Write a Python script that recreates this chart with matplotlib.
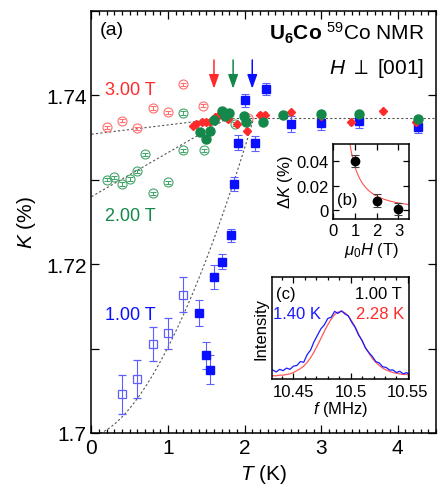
import numpy as np
import matplotlib
matplotlib.use('Agg')
from matplotlib import pyplot as plt
from matplotlib.ticker import MultipleLocator, FuncFormatter

plt.rcParams['font.family'] = ['Liberation Sans', 'DejaVu Sans']
plt.rcParams['mathtext.fontset'] = 'custom'
plt.rcParams['mathtext.rm'] = 'Liberation Sans'
plt.rcParams['mathtext.it'] = 'Liberation Sans:italic'
plt.rcParams['mathtext.bf'] = 'Liberation Sans:bold'

# ---- (a) Knight shift vs T ----
# 3.00 T
T3_open = [0.20, 0.40, 0.60, 0.80, 1.00, 1.20, 1.46, 2.05]
K3_open = [1.7362, 1.7370, 1.7361, 1.7385, 1.7380, 1.7413, 1.7388, 1.7373]
T3_fill = [1.33, 1.37, 1.44, 1.50, 1.55, 1.61, 1.65, 1.78, 1.90, 2.03,
           2.20, 2.27, 2.60, 3.00, 3.39, 3.81, 4.24]
K3_fill = [1.7364, 1.7366, 1.7369, 1.7369, 1.7369, 1.7374, 1.7376, 1.7372, 1.7366, 1.7358,
           1.7377, 1.7377, 1.7380, 1.7376, 1.7368, 1.7381, 1.7368]
# 2.00 T
T2_open = [0.20, 0.30, 0.40, 0.50, 0.60, 0.70, 0.80, 1.00, 1.19, 1.20, 1.47, 1.87]
K2_open = [1.7300, 1.7303, 1.7295, 1.7301, 1.7310, 1.7330, 1.7284, 1.7297, 1.7379, 1.7335, 1.7335, 1.7366]
T2_fill = [1.42, 1.50, 1.55, 1.60, 1.70, 1.75, 1.80, 1.99, 2.02, 2.24, 2.50, 3.00, 3.50, 4.26]
K2_fill = [1.7357, 1.7348, 1.7358, 1.7371, 1.7381, 1.7375, 1.7379, 1.7375, 1.7368, 1.7368,
           1.7377, 1.7378, 1.7378, 1.7372]
# 1.00 T
T1_open = [0.40, 0.60, 0.80, 1.00, 1.20]
K1_open = [1.7046, 1.7064, 1.7105, 1.7118, 1.7164]
E1_open = [0.0023, 0.0023, 0.0020, 0.0018, 0.0021]
T1_fill = [1.40, 1.50, 1.55, 1.60, 1.70, 1.82, 1.86, 1.91, 2.00, 2.14, 2.28, 2.60, 3.00, 3.50, 4.26]
K1_fill = [1.7142, 1.7092, 1.7075, 1.7185, 1.7203, 1.7234, 1.7295, 1.7344, 1.7394, 1.7343,
           1.7408, 1.7366, 1.7367, 1.7370, 1.7363]
E1_fill = [0.0015, 0.0016, 0.0017, 0.0014, 0.0009, 0.0008, 0.0008, 0.0009, 0.0008, 0.0009,
           0.0007, 0.0009, 0.0008, 0.0009, 0.0008]

# fit curves: K = Kn - (Kn - K0) * (1 - (T/Tc)^p), red / green / blue
K_normal = 1.7373
fit_Tc = [1.72, 1.78, 2.12]
fit_K0 = [1.7354, 1.7280, 1.6997]
fit_p = [1.0, 1.0, 1.7]
arrow_T = [1.60, 1.85, 2.10]

# ---- (b) Delta K vs field ----
H_b = [1, 2, 3]
dK_b = [0.040, 0.008, 0.001]
dK_err = [0.005, 0.005, 0.005]
dK_amp, dK_pow = 0.035, 1.6

# ---- (c) spectra at 1.00 T ----
freq = [10.432, 10.435, 10.438, 10.441, 10.444, 10.447, 10.450, 10.453, 10.456, 10.459,
        10.462, 10.465, 10.468, 10.471, 10.474, 10.477, 10.480, 10.483, 10.486, 10.489,
        10.492, 10.495, 10.498, 10.501, 10.504, 10.507, 10.510, 10.513, 10.516, 10.519,
        10.522, 10.525, 10.528, 10.531, 10.534, 10.537, 10.540, 10.543, 10.546, 10.549, 10.552]
I_140K = [0.06, 0.03, 0.07, 0.05, 0.09, 0.07, 0.12, 0.13, 0.19, 0.18,
          0.30, 0.37, 0.50, 0.60, 0.70, 0.76, 0.86, 0.88, 0.97, 0.94,
          0.98, 0.93, 0.90, 0.80, 0.72, 0.60, 0.52, 0.40, 0.33, 0.27,
          0.19, 0.17, 0.11, 0.10, 0.06, 0.06, 0.02, 0.04, 0.00, 0.02, -0.02]
I_228K = [-0.03, -0.03, -0.02, -0.02, -0.01, 0.00, 0.02, 0.05, 0.08, 0.12,
          0.18, 0.25, 0.34, 0.44, 0.55, 0.66, 0.76, 0.85, 0.92, 0.96,
          0.97, 0.95, 0.90, 0.82, 0.73, 0.62, 0.51, 0.41, 0.32, 0.24,
          0.18, 0.13, 0.09, 0.06, 0.04, 0.02, 0.01, 0.00, -0.01, -0.01, -0.02]

RED = '#ff2a2a'
RED_L = '#ff7070'
GREEN = '#14884a'
GREEN_L = '#45a46c'
BLUE = '#0a10ff'
BLUE_L = '#5f5fff'

fig = plt.figure(figsize=(4.43, 5.02), dpi=100)
ax = fig.add_axes([0.2065, 0.1355, 0.7777, 0.8406])

def style(a, size):
    a.tick_params(which='both', direction='in', top=True, right=True, labelsize=size, width=0.9)
    for s in a.spines.values():
        s.set_linewidth(1.1)

# fits
for Tc, K0, p in zip(fit_Tc, fit_K0, fit_p):
    t = np.linspace(0, Tc, 200)
    ax.plot(t, K_normal - (K_normal - K0) * (1 - (t / Tc) ** p), ls=(0, (2, 2)), color='#555555', lw=0.8, zorder=1)
ax.plot([min(fit_Tc), 4.5], [K_normal, K_normal], ls=(0, (2, 2)), color='#555555', lw=0.8, zorder=1)

# data
ax.errorbar(T3_open, K3_open, yerr=0.0002, fmt='o', ms=6.5, mfc='none', mec=RED_L, mew=0.8,
            ecolor=RED_L, elinewidth=0.7, capsize=2, capthick=0.7, zorder=2)
ax.errorbar(T2_open, K2_open, yerr=0.0002, fmt='o', ms=6.5, mfc='none', mec=GREEN_L, mew=0.8,
            ecolor=GREEN_L, elinewidth=0.7, capsize=2, capthick=0.7, zorder=2)
ax.errorbar(T1_open, K1_open, yerr=E1_open, fmt='s', ms=5.5, mfc='none', mec=BLUE_L, mew=0.9,
            ecolor=BLUE_L, elinewidth=0.8, capsize=3, capthick=0.8, zorder=2)
ax.errorbar(T1_fill, K1_fill, yerr=E1_fill, fmt='s', ms=5.5, color=BLUE, mec=BLUE,
            ecolor=BLUE_L, elinewidth=0.8, capsize=3, capthick=0.8, zorder=3)
ax.errorbar(T3_fill, K3_fill, yerr=0.0003, fmt='D', ms=3.8, color=RED, mec=RED,
            ecolor=RED, elinewidth=0.8, capsize=1.5, capthick=0.8, zorder=3)
ax.plot(T2_fill, K2_fill, 'o', ms=6.5, color=GREEN, zorder=4)

for T, c in zip(arrow_T, [RED, GREEN, BLUE]):
    ax.annotate('', xy=(T, 1.7408), xytext=(T, 1.7442),
                arrowprops=dict(arrowstyle='-|>,head_width=0.25,head_length=0.7', color=c, lw=1.1,
                                mutation_scale=12, shrinkA=0, shrinkB=0))

ax.set_xlim(0, 4.5)
ax.set_ylim(1.70, 1.75)
ax.xaxis.set_major_locator(MultipleLocator(1))
ax.xaxis.set_minor_locator(MultipleLocator(0.1))
ax.yaxis.set_major_locator(MultipleLocator(0.02))
ax.yaxis.set_minor_locator(MultipleLocator(0.01))
ax.yaxis.set_major_formatter(FuncFormatter(lambda v, p: f'{v:g}'))
style(ax, 15)
ax.tick_params(which='major', length=6)
ax.tick_params(axis='x', which='minor', length=3)
ax.tick_params(axis='y', which='minor', length=6)
ax.set_xlabel('$T$ (K)', fontsize=15, labelpad=4)
ax.set_ylabel('$K$ (%)', fontsize=15, labelpad=6)

ax.text(0.025, 0.955, '(a)', transform=ax.transAxes, fontsize=14, va='center')
ax.text(0.965, 0.95, r'$\mathbf{U_6Co}$ $^{59}$Co NMR', transform=ax.transAxes, fontsize=15,
        ha='right', va='center')
ax.text(0.965, 0.865, r'$H\ \perp\ $[001]', transform=ax.transAxes, fontsize=15, ha='right', va='center')
ax.text(0.04, 0.815, '3.00 T', transform=ax.transAxes, fontsize=13, color=RED, va='center')
ax.text(0.04, 0.515, '2.00 T', transform=ax.transAxes, fontsize=13, color=GREEN, va='center')
ax.text(0.04, 0.28, '1.00 T', transform=ax.transAxes, fontsize=13, color=BLUE, va='center')

# inset (b)
axb = fig.add_axes([0.7524, 0.5627, 0.1716, 0.1484])
h = np.linspace(0.75, 3.5, 200)
axb.plot(h, dK_amp / h ** dK_pow, color='#ff5050', lw=0.8)
axb.errorbar(H_b, dK_b, yerr=dK_err, fmt='o', ms=6, color='black', ecolor='#444444',
             elinewidth=0.8, capsize=3, capthick=0.8)
axb.set_xlim(0, 3.5)
axb.set_ylim(-0.0065, 0.0535)
axb.xaxis.set_major_locator(MultipleLocator(1))
axb.yaxis.set_major_locator(MultipleLocator(0.02))
axb.yaxis.set_major_formatter(FuncFormatter(lambda v, p: f'{v:g}'))
style(axb, 12)
axb.tick_params(length=4)
axb.set_xlabel(r'$\mu_0H$ (T)', fontsize=12, labelpad=1)
axb.set_ylabel(r'$\Delta K$ (%)', fontsize=12, labelpad=1)
axb.text(0.05, 0.26, '(b)', transform=axb.transAxes, fontsize=12, va='center')

# inset (c)
axc = fig.add_axes([0.6133, 0.2430, 0.3099, 0.2026])
axc.plot(freq, I_228K, color='#ff5a5a', lw=0.9)
axc.plot(freq, I_140K, color='#1a1aff', lw=0.9)
axc.set_xlim(10.431, 10.551)
axc.set_ylim(-0.08, 1.5)
axc.xaxis.set_major_locator(MultipleLocator(0.05))
axc.xaxis.set_minor_locator(MultipleLocator(0.01))
axc.xaxis.set_major_formatter(FuncFormatter(lambda v, p: f'{v:g}'))
axc.set_yticks([])
style(axc, 12)
axc.tick_params(which='major', length=4)
axc.tick_params(which='minor', length=2)
axc.set_xlabel('$f$ (MHz)', fontsize=12, labelpad=0)
axc.set_ylabel('Intensity', fontsize=12, labelpad=2)
axc.text(0.03, 0.84, '(c)', transform=axc.transAxes, fontsize=12, va='center')
axc.text(0.95, 0.84, '1.00 T', transform=axc.transAxes, fontsize=12, ha='right', va='center')
axc.text(0.01, 0.64, '1.40 K', transform=axc.transAxes, fontsize=12, color='#1a1aff', va='center')
axc.text(0.965, 0.64, '2.28 K', transform=axc.transAxes, fontsize=12, color=RED, ha='right', va='center')

fig.savefig('out.png', dpi=100)
